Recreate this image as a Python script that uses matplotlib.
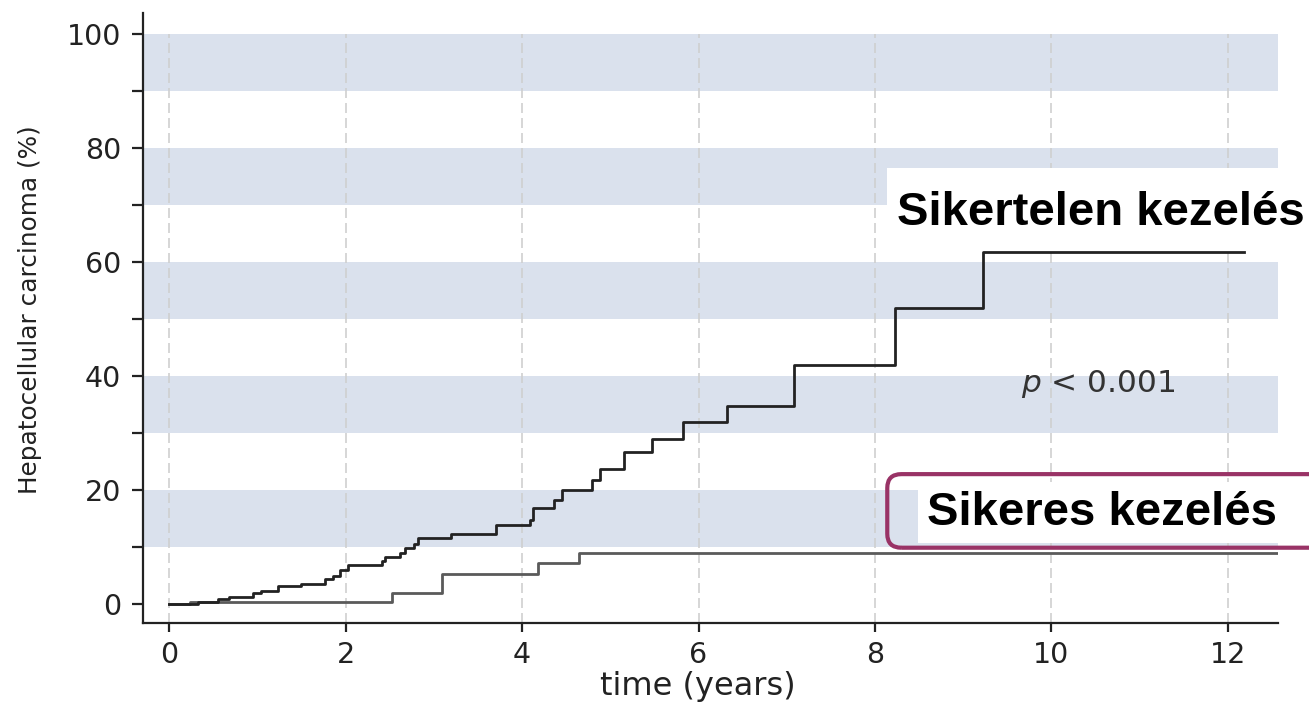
import numpy as np
from matplotlib import pyplot as plt
from matplotlib.patches import FancyBboxPatch, Rectangle

# cumulative HCC incidence (%)
t_fail = [0, 0.33, 0.55, 0.68, 0.95, 1.04, 1.23, 1.49, 1.76, 1.86, 1.94, 2.03, 2.41, 2.45,
          2.62, 2.67, 2.77, 2.82, 3.19, 3.70, 4.09, 4.12, 4.36, 4.45, 4.79, 4.88, 5.15,
          5.47, 5.82, 6.32, 7.08, 8.23, 9.23, 12.18]
y_fail = [0, 0.3, 0.85, 1.3, 2.0, 2.3, 3.1, 3.5, 4.5, 5.0, 6.0, 6.8, 7.5, 8.3,
          9.0, 9.8, 10.6, 11.6, 12.3, 13.8, 14.8, 16.8, 18.3, 20.0, 21.8, 23.7, 26.6,
          29.0, 32.0, 34.8, 42.0, 51.9, 61.8, 61.8]

t_ok = [0, 0.23, 2.53, 3.09, 4.18, 4.64, 12.6]
y_ok = [0, 0.4, 2.0, 5.3, 7.2, 9.0, 9.0]

x_ticks = [0, 2, 4, 6, 8, 10, 12]
y_ticks = [0, 20, 40, 60, 80, 100]
y_minor = [10, 30, 50, 70, 90]
band_lo = [10, 30, 50, 70, 90]

label_fail = "Sikertelen kezelés"
label_ok = "Sikeres kezelés"
p_text = r"$p$ < 0.001"

fig = plt.figure(figsize=(13.09, 7.09), dpi=100)
ax = fig.add_axes([143.3 / 1309, 86 / 709, (1278 - 143.3) / 1309, (623 - 12.7) / 709])
ax.set_xlim(-0.295, 12.57)
ax.set_ylim(-3.3, 103.7)

band_col = "#dae1ed"
for lo in band_lo:
    ax.axhspan(lo, lo + 10, color=band_col, lw=0, zorder=0)

ax.vlines(x_ticks, -3.3, 100, colors="#cfcfcf", linestyles=(0, (6, 3)), lw=1.2, zorder=1)

ax.plot(t_ok, y_ok, drawstyle="steps-post", color="#5a5a5a", lw=2, zorder=3)
ax.plot(t_fail, y_fail, drawstyle="steps-post", color="#222222", lw=2, zorder=4)

for s in ["top", "right"]:
    ax.spines[s].set_visible(False)
for s in ["left", "bottom"]:
    ax.spines[s].set_linewidth(1.6)
    ax.spines[s].set_color("#222222")

ax.set_xticks(x_ticks)
ax.set_yticks(y_ticks)
ax.set_yticks(y_minor, minor=True)
ax.tick_params(axis="both", which="both", direction="out", width=1.6, color="#222222")
ax.tick_params(axis="y", which="both", length=8, pad=8)
ax.tick_params(axis="x", length=6.5, pad=6.5)
for lab in ax.get_xticklabels() + ax.get_yticklabels():
    lab.set_fontsize(20.5)
    lab.set_color("#222222")
    lab.set_family("DejaVu Sans")

ax.set_xlabel("time (years)", fontsize=23, color="#222222", family="DejaVu Sans")
ax.xaxis.set_label_coords(0.489, -0.079)
ax.set_ylabel("Hepatocellular carcinoma (%)", fontsize=17.8, color="#222222", family="DejaVu Sans")
ax.yaxis.set_label_coords(-0.0895, 0.513)

ax.text(9.66, 37.2, p_text, fontsize=22.5, color="#333333", family="DejaVu Sans",
        va="baseline", ha="left", zorder=5)

# white patch behind the upper label
ax.add_patch(Rectangle((8.14, 62.5), 5.0, 14.0, facecolor="white", edgecolor="none",
                       zorder=5, clip_on=False))
ax.text(8.25, 66.5, label_fail, fontsize=34, fontweight="bold", family="Liberation Sans",
        color="black", va="baseline", ha="left", zorder=6, clip_on=False)

ax.text(8.59, 13.9, label_ok, fontsize=34, fontweight="bold", family="Liberation Sans",
        color="black", va="baseline", ha="left", zorder=6, clip_on=False,
        bbox=dict(facecolor="white", edgecolor="none", pad=6))

box = FancyBboxPatch((8.14, 9.9), 5.5, 12.9, boxstyle="round,pad=0,rounding_size=0.16",
                     mutation_aspect=15.2, facecolor="none", edgecolor="#993366", lw=3,
                     transform=ax.transData, clip_on=False, zorder=7)
ax.add_patch(box)

plt.savefig("out.png", dpi=100)
